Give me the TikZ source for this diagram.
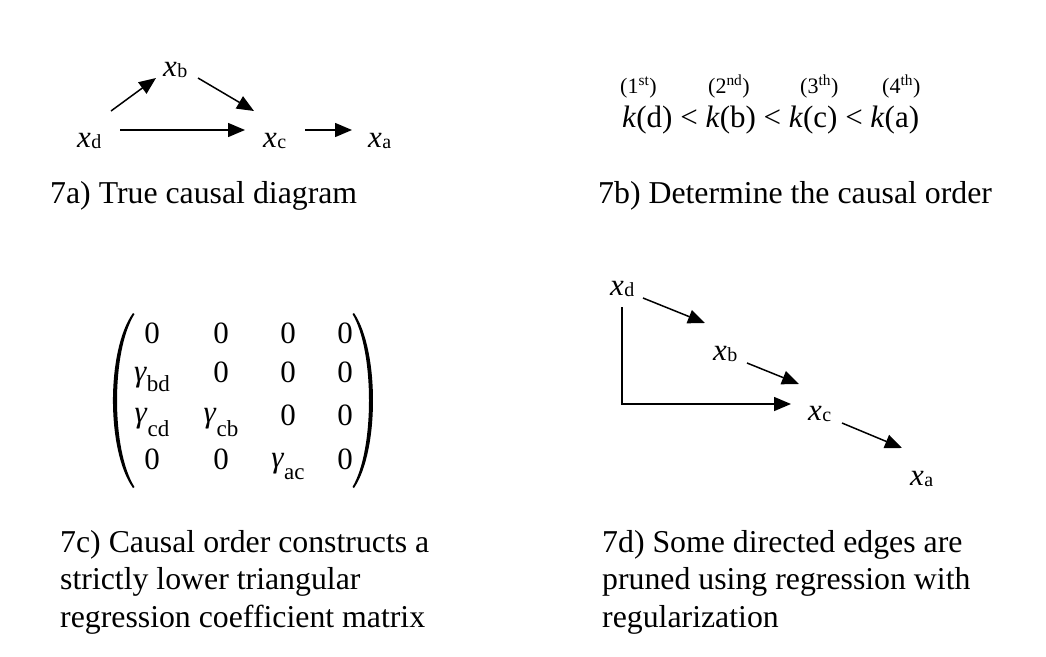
\documentclass[tikz,border=0pt]{standalone}
\usepackage{fontspec}
\setmainfont{Liberation Serif}
\usetikzlibrary{arrows.meta,calc}
\newcommand{\xv}[1]{\textit{x}\kern0.5pt\raisebox{-1pt}{\fontsize{20}{20}\selectfont #1}}
\newcommand{\gv}[2]{\textit{γ}\raisebox{-#2pt}{\fontsize{23}{23}\selectfont #1}}
\begin{document}
\begin{tikzpicture}[x=1pt,y=-1pt,
  var/.style={inner sep=0pt,anchor=base west,font=\fontsize{31}{37.5}\selectfont},
  captext/.style={inner sep=0pt,anchor=base west,align=left,font=\fontsize{31.8}{37.5}\selectfont},
  ord/.style={inner sep=0pt,anchor=base west,font=\fontsize{22}{22}\selectfont},
  ent/.style={inner sep=0pt,anchor=base,font=\fontsize{31}{31}\selectfont},
  arr/.style={line width=1.5pt,-{Triangle[length=17pt,width=14pt]}}]
\useasboundingbox (0,0) rectangle (1046,656);

% ---- 7a ----
\node[var] (xd) at (77,147) {\xv{d}};
\node[var] (xb) at (163,76) {\xv{b}};
\node[var] (xc) at (263,147) {\xv{c}};
\node[var] (xa) at (368,147) {\xv{a}};
\draw[arr] ($(xd.base west)+(43,-17)$) -- ($(xc.base west)+(-18,-17)$);
\draw[arr] ($(xd.base west)+(34,-36)$) -- ($(xb.base west)+(-7,2)$);
\draw[arr] ($(xb.base west)+(35,2)$) -- ($(xc.base west)+(-9,-36)$);
\draw[arr] ($(xc.base west)+(42,-17)$) -- ($(xa.base west)+(-16,-17)$);
\node[captext] (capa) at (50,203) {7a) True causal diagram};

% ---- 7b ----
\node[ord] (o1) at (620,93) {(1\textsuperscript{st})};
\node[ord] (o2) at (708,93) {(2\textsuperscript{nd})};
\node[ord] (o3) at (800,93) {(3\textsuperscript{th})};
\node[ord] (o4) at (882,93) {(4\textsuperscript{th})};
\node[var] (ordr) at (622,127) {\textit{k}(d) < \textit{k}(b) < \textit{k}(c) < \textit{k}(a)};
\node[captext] (capb) at (598,203) {7b) Determine the causal order};

% ---- 7c ----
\fill (133,313) .. controls (106.3,350) and (106.3,451) .. (133,488)
  -- (134.5,487) .. controls (111.2,450) and (111.2,351) .. (134.5,314) -- cycle;
\fill (354,313) .. controls (379.3,350) and (379.3,451) .. (354,488)
  -- (352.5,487) .. controls (374.5,450) and (374.5,351) .. (352.5,314) -- cycle;
\node[ent] (m11) at (152,343) {0};
\node[ent] (m12) at (221,343) {0};
\node[ent] (m13) at (288,343) {0};
\node[ent] (m14) at (345,343) {0};
\node[ent] (m21) at (152,381) {\gv{bd}{10}};
\node[ent] (m22) at (221,382) {0};
\node[ent] (m23) at (288,382) {0};
\node[ent] (m24) at (345,382) {0};
\node[ent] (m31) at (152,422) {\gv{cd}{14}};
\node[ent] (m32) at (221,422) {\gv{cb}{14}};
\node[ent] (m33) at (288,425) {0};
\node[ent] (m34) at (345,425) {0};
\node[ent] (m41) at (152,469) {0};
\node[ent] (m42) at (221,469) {0};
\node[ent] (m43) at (288,467) {\gv{ac}{12}};
\node[ent] (m44) at (345,469) {0};
\node[captext] (capc) at (60,627) {7c) Causal order constructs a\\strictly lower triangular\\regression coefficient matrix};

% ---- 7d ----
\node[var] (dd) at (610,295) {\xv{d}};
\node[var] (db) at (713,360) {\xv{b}};
\node[var] (dc) at (808,420) {\xv{c}};
\node[var] (da) at (910,485) {\xv{a}};
\draw[arr] ($(dd.base west)+(33,3)$) -- ($(db.base west)+(-8,-37)$);
\draw[arr] ($(db.base west)+(34,3)$) -- ($(dc.base west)+(-9,-36)$);
\draw[arr] ($(dc.base west)+(34,3)$) -- ($(da.base west)+(-8,-37)$);
\draw[arr] ($(dd.base west)+(12,12)$) |- ($(dc.base west)+(-17,-16)$);
\node[captext] (capd) at (602,627) {7d) Some directed edges are\\pruned using regression with\\regularization};
\end{tikzpicture}
\end{document}
